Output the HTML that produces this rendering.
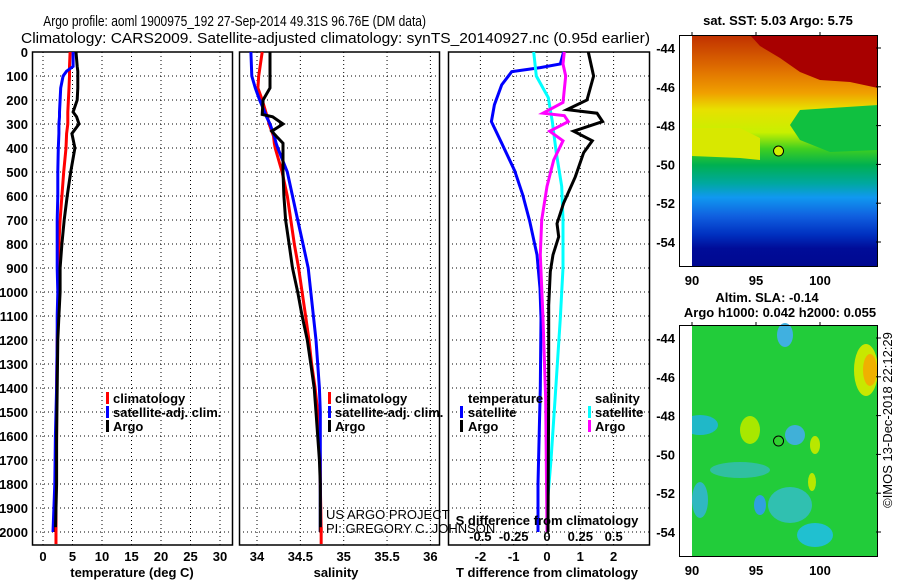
<!DOCTYPE html>
<html><head><meta charset="utf-8">
<style>
html,body{margin:0;padding:0;background:#fff;}
svg{display:block;font-family:"Liberation Sans",sans-serif;}
.tk{font-size:13px;font-weight:bold;fill:#000;}
.lg{font-size:13px;font-weight:bold;fill:#000;}
</style></head>
<body>
<svg id="fig" width="900" height="580" viewBox="0 0 900 580" xmlns="http://www.w3.org/2000/svg">
  <text x="54" y="26" font-size="15" transform="scale(0.8,1)">Argo profile: aoml 1900975_192 27-Sep-2014 49.31S 96.76E (DM data)</text>
  <text x="21" y="43" font-size="15" textLength="629" lengthAdjust="spacingAndGlyphs">Climatology: CARS2009. Satellite-adjusted climatology: synTS_20140927.nc (0.95d earlier)</text>

  <g id="p1"></g>
  <g id="p2"></g>
  <g id="p3"></g>

  <g>
    <rect x="106" y="392" width="3" height="12" fill="#f00"/>
    <text class="lg" x="113" y="403">climatology</text>
    <rect x="106" y="406" width="3" height="12" fill="#00f"/>
    <text class="lg" x="113" y="417">satellite-adj. clim.</text>
    <rect x="106" y="420" width="3" height="12" fill="#000"/>
    <text class="lg" x="113" y="431">Argo</text>
  </g>
  <g>
    <rect x="328" y="392" width="3" height="12" fill="#f00"/>
    <text class="lg" x="335" y="403">climatology</text>
    <rect x="328" y="406" width="3" height="12" fill="#00f"/>
    <text class="lg" x="335" y="417">satellite-adj. clim.</text>
    <rect x="328" y="420" width="3" height="12" fill="#000"/>
    <text class="lg" x="335" y="431">Argo</text>
  </g>
  <g>
    <text class="lg" x="468" y="403">temperature</text>
    <rect x="460" y="406" width="3" height="12" fill="#00f"/>
    <text class="lg" x="468" y="417">satellite</text>
    <rect x="460" y="420" width="3" height="12" fill="#000"/>
    <text class="lg" x="468" y="431">Argo</text>
    <text class="lg" x="595" y="403">salinity</text>
    <rect x="588" y="406" width="3" height="12" fill="#0ff"/>
    <text class="lg" x="595" y="417">satellite</text>
    <rect x="588" y="420" width="3" height="12" fill="#f0f"/>
    <text class="lg" x="595" y="431">Argo</text>
  </g>
  <text x="326" y="519" font-size="13" fill="#000">US ARGO PROJECT</text>
  <text x="326" y="533" font-size="13" fill="#000">PI: GREGORY C. JOHNSON</text>

  <text class="tk" x="132" y="577" text-anchor="middle">temperature (deg C)</text>
  <text class="tk" x="336" y="577" text-anchor="middle">salinity</text>
  <text class="tk" x="547" y="577" text-anchor="middle">T difference from climatology</text>
  <text class="tk" x="547" y="525" text-anchor="middle">S difference from climatology</text>

  <g>
    <defs>
      <linearGradient id="sstg" x1="0" y1="0" x2="0" y2="1">
        <stop offset="0" stop-color="#c03000"/>
        <stop offset="0.15" stop-color="#e07000"/>
        <stop offset="0.25" stop-color="#f0a000"/>
        <stop offset="0.32" stop-color="#e8e000"/>
        <stop offset="0.42" stop-color="#c8f000"/>
        <stop offset="0.49" stop-color="#40d020"/>
        <stop offset="0.56" stop-color="#00b050"/>
        <stop offset="0.64" stop-color="#00a8a0"/>
        <stop offset="0.7" stop-color="#1098f0"/>
        <stop offset="0.78" stop-color="#1060e0"/>
        <stop offset="0.86" stop-color="#0030c0"/>
        <stop offset="0.92" stop-color="#000c98"/>
        <stop offset="1" stop-color="#000890"/>
      </linearGradient>
    </defs>
    <text class="tk" x="778" y="25" text-anchor="middle">sat. SST: 5.03 Argo: 5.75</text>
    <rect x="692" y="35" width="186" height="232" fill="url(#sstg)"/>
    <polygon points="750,35 878,35 878,88 850,82 820,80 800,72 780,58 760,46" fill="#a80000"/>
    <polygon points="692,128 740,128 760,138 760,160 740,158 692,156" fill="#d8e800"/>
    <polygon points="800,110 878,105 878,150 830,152 800,140 790,125" fill="#10c040"/>
    <rect x="680" y="35" width="12" height="232" fill="#fff"/>
    <rect x="679.5" y="35.5" width="198" height="231" fill="none" stroke="#000"/>
  </g>
  <g>
    <text class="tk" x="767" y="302" text-anchor="middle">Altim. SLA: -0.14</text>
    <text class="tk" x="780" y="317" text-anchor="middle">Argo h1000: 0.042 h2000: 0.055</text>
    <rect x="692" y="325" width="186" height="232" fill="#22cc3a"/>
    <ellipse cx="700" cy="425" rx="18" ry="10" fill="#20b8c8"/>
    <ellipse cx="740" cy="470" rx="30" ry="8" fill="#30c0a0"/>
    <ellipse cx="790" cy="505" rx="22" ry="18" fill="#30c0b0"/>
    <ellipse cx="815" cy="535" rx="18" ry="12" fill="#20c0d0"/>
    <ellipse cx="785" cy="335" rx="8" ry="12" fill="#40b0e0"/>
    <ellipse cx="795" cy="435" rx="10" ry="10" fill="#40b0d8"/>
    <ellipse cx="700" cy="500" rx="8" ry="18" fill="#30b8c0"/>
    <ellipse cx="760" cy="505" rx="6" ry="10" fill="#30a0e0"/>
    <ellipse cx="866" cy="370" rx="12" ry="26" fill="#c8e800"/>
    <ellipse cx="870" cy="370" rx="7" ry="16" fill="#f0b000"/>
    <ellipse cx="750" cy="430" rx="10" ry="14" fill="#a8e800"/>
    <ellipse cx="815" cy="445" rx="5" ry="9" fill="#b8e800"/>
    <ellipse cx="812" cy="482" rx="4" ry="9" fill="#b8e800"/>
    <rect x="680" y="325" width="12" height="232" fill="#fff"/>
    <rect x="679.5" y="325.5" width="198" height="231" fill="none" stroke="#000"/>
    <text font-size="13" transform="translate(892,420) rotate(-90)" text-anchor="middle">©IMOS 13-Dec-2018 22:12:29</text>
  </g>
  <g id="maps"></g>
</svg>
<script>
const tempDepth = [0,60,80,100,150,200,250,270,300,340,400,500,600,700,800,900,1000,1100,1200,1400,1600,1800,2000];
const tempArgo  = [5.6,5.8,5.9,5.9,5.9,5.8,5.1,5.7,6.1,4.9,5.4,4.7,4.1,3.6,3.2,2.9,2.9,2.7,2.5,2.4,2.3,2.3,2.1];
const tempClim  = [4.6,4.5,4.5,4.5,4.4,4.3,4.2,4.2,4.2,4.0,3.9,3.5,3.2,2.9,2.7,2.6,2.6,2.5,2.4,2.3,2.3,2.2,2.2];
const tempSat   = [5.1,5.1,4.0,3.4,3.0,2.9,2.8,2.8,2.7,2.7,2.6,2.5,2.5,2.4,2.4,2.4,2.5,2.4,2.4,2.3,2.1,2.0,1.7];

const salDepth = [0,100,150,200,260,270,300,330,350,380,400,500,600,700,800,900,1000,1100,1200,1300,1400,1500,1600,1700,1800,2000];
const salArgo  = [34.15,34.15,34.15,34.07,34.06,34.18,34.30,34.17,34.22,34.30,34.30,34.30,34.31,34.33,34.37,34.41,34.47,34.52,34.58,34.62,34.66,34.68,34.70,34.72,34.73,34.73];
const salClim  = [34.06,34.02,34.01,34.06,34.11,34.12,34.14,34.17,34.19,34.20,34.21,34.29,34.35,34.39,34.43,34.48,34.52,34.56,34.60,34.63,34.67,34.70,34.72,34.73,34.73,34.74];
const salSat   = [33.93,33.94,33.98,34.03,34.10,34.11,34.15,34.18,34.20,34.22,34.24,34.35,34.41,34.47,34.53,34.59,34.62,34.65,34.68,34.70,34.72,34.73,34.73,34.73,34.73,34.73];

const tdDepth = [0,50,65,82,137,220,290,380,495,595,705,845,985,1110,1400,1800,2000];
const tdSat   = [0.5,0.4,-0.2,-1.06,-1.36,-1.58,-1.67,-1.36,-0.97,-0.73,-0.52,-0.3,-0.21,-0.18,-0.2,-0.27,-0.27];
const taDepth = [0,100,200,240,255,290,330,370,420,520,630,715,770,845,915,1055,1400,2000];
const tdArgo  = [1.24,1.4,1.2,0.6,1.5,1.67,0.8,1.36,1.1,0.85,0.5,0.3,0.35,0.18,0.1,0.05,0.05,0.03];
const sdDepth = [0,100,190,290,420,560,700,900,1110,1450,1700,1900,2000];
const sdSat   = [-0.1,-0.08,0.01,0.04,0.07,0.11,0.12,0.12,0.1,0.06,0.03,0.0,0.0];
const saDepth = [0,50,100,210,255,265,290,330,370,450,560,700,845,1110,1450,2000];
const sdArgo  = [0.13,0.12,0.14,0.12,-0.03,0.13,0.16,0.02,0.12,0.05,0.0,-0.04,-0.05,-0.03,-0.01,0.0];

const depthTicks = [0,100,200,300,400,500,600,700,800,900,1000,1100,1200,1300,1400,1500,1600,1700,1800,1900,2000];
const tempTicks = [0,5,10,15,20,25,30];
const salTicks = [34,34.5,35,35.5,36];
const salTickLabels = ["34","34.5","35","35.5","36"];
const tdTicks = [-2,-1,0,1,2];
const sdTicks = [-0.5,-0.25,0,0.25,0.5];
const sdTickLabels = ["-0.5","-0.25","0","0.25","0.5"];
const latTicks = [-44,-46,-48,-50,-52,-54];
const lonTicks = [90,95,100];
const argoLat = -49.31, argoLon = 96.76;

const yD = d => 52 + d*0.24;
const xT = t => 43 + t*5.9;
const xS = s => 257 + (s-34)*86.7;
const xTD = t => 547 + t*33.3;
const xSD = s => 547 + s*133.3;
const xLon = l => 692 + (l-90)*12.8;
const yLat1 = l => 48 + (-44-l)*19.4;
const yLat2 = l => 338 + (-44-l)*19.4;

const NS='http://www.w3.org/2000/svg';
function mk(tag, attrs, parent){const e=document.createElementNS(NS,tag);for(const k in attrs)e.setAttribute(k,attrs[k]);parent.appendChild(e);return e;}

function frame(g, x0, x1, vx){
  for(const d of depthTicks){
    const l=mk('line',{x1:x0,x2:x1,y1:yD(d),y2:yD(d),stroke:'#000','stroke-width':1,'stroke-dasharray':'1,3'},g);
    
    
  }
  for(const x of vx){
    const l=mk('line',{x1:x,x2:x,y1:52,y2:545,stroke:'#000','stroke-width':1,'stroke-dasharray':'1,3'},g);
    
    
  }
  const r=mk('rect',{x:x0+0.5,y:52,width:x1-x0-1,height:493,fill:'none',stroke:'#000','stroke-width':1.5},g);
  
  
}
function line(g, xs, ds, xf, color, name){
  const pts = xs.map((v,i)=>xf(v).toFixed(1)+','+yD(ds[i]).toFixed(1)).join(' ');
  const p=mk('polyline',{points:pts,fill:'none',stroke:color,'stroke-width':3,'stroke-linejoin':'miter'},g);
  
  
}
function tickLabel(g,x,y,txt,anchor){
  const t=mk('text',{x:x,y:y,'text-anchor':anchor||'middle',class:'tk'},g);
  t.textContent=txt;
  
  
}

const p1=document.getElementById('p1'), p2=document.getElementById('p2'), p3=document.getElementById('p3');
frame(p1,32,233,tempTicks.map(xT));
frame(p2,239,440,salTicks.map(xS));
frame(p3,448,650,tdTicks.map(xTD));
for(const d of depthTicks) tickLabel(p1,28,yD(d)+5,String(d),'end');
tempTicks.forEach(t=>tickLabel(p1,xT(t),561,String(t)));
salTicks.forEach((s,i)=>tickLabel(p2,xS(s),561,salTickLabels[i]));
tdTicks.forEach(t=>tickLabel(p3,xTD(t),561,String(t)));
sdTicks.forEach((s,i)=>tickLabel(p3,xSD(s),541,sdTickLabels[i]));

line(p1,tempClim,tempDepth,xT,'#f00','temp-climatology-line');
line(p1,tempSat,tempDepth,xT,'#00f','temp-satellite-line');
line(p1,tempArgo,tempDepth,xT,'#000','temp-argo-line');
mk('line',{x1:xT(tempClim[tempClim.length-1]),x2:xT(tempClim[tempClim.length-1]),y1:yD(1980),y2:544,stroke:'#f00','stroke-width':3},p1);
line(p2,salClim,salDepth,xS,'#f00','sal-climatology-line');
line(p2,salSat,salDepth,xS,'#00f','sal-satellite-line');
line(p2,salArgo,salDepth,xS,'#000','sal-argo-line');
mk('line',{x1:xS(salClim[salClim.length-1]),x2:xS(salClim[salClim.length-1]),y1:yD(1980),y2:544,stroke:'#f00','stroke-width':3},p2);
line(p3,tdSat,tdDepth,xTD,'#00f','tdiff-satellite-line');
line(p3,sdSat,sdDepth,xSD,'#0ff','sdiff-satellite-line');
line(p3,sdArgo,saDepth,xSD,'#f0f','sdiff-argo-line');
line(p3,tdArgo,taDepth,xTD,'#000','tdiff-argo-line');

const mg=document.getElementById('maps');
for(const l of latTicks){
  tickLabel(mg,675,yLat1(l)+5,String(l),'end');
  tickLabel(mg,675,yLat2(l)+5,String(l),'end');
  mk('line',{x1:876,x2:881,y1:yLat1(l),y2:yLat1(l),stroke:'#000'},mg);
  mk('line',{x1:876,x2:881,y1:yLat2(l),y2:yLat2(l),stroke:'#000'},mg);
}
for(const l of lonTicks){
  tickLabel(mg,xLon(l),285,String(l));
  tickLabel(mg,xLon(l),575,String(l));
  mk('line',{x1:xLon(l),x2:xLon(l),y1:32,y2:36,stroke:'#000'},mg);
  mk('line',{x1:xLon(l),x2:xLon(l),y1:322,y2:326,stroke:'#000'},mg);
}
const m1=mk('circle',{cx:xLon(argoLon),cy:yLat1(argoLat),r:5,fill:'#d0f000',stroke:'#000','stroke-width':1},mg);


const m2=mk('circle',{cx:xLon(argoLon),cy:yLat2(argoLat),r:5,fill:'#30d030',stroke:'#000','stroke-width':1},mg);


</script>
</body></html>
